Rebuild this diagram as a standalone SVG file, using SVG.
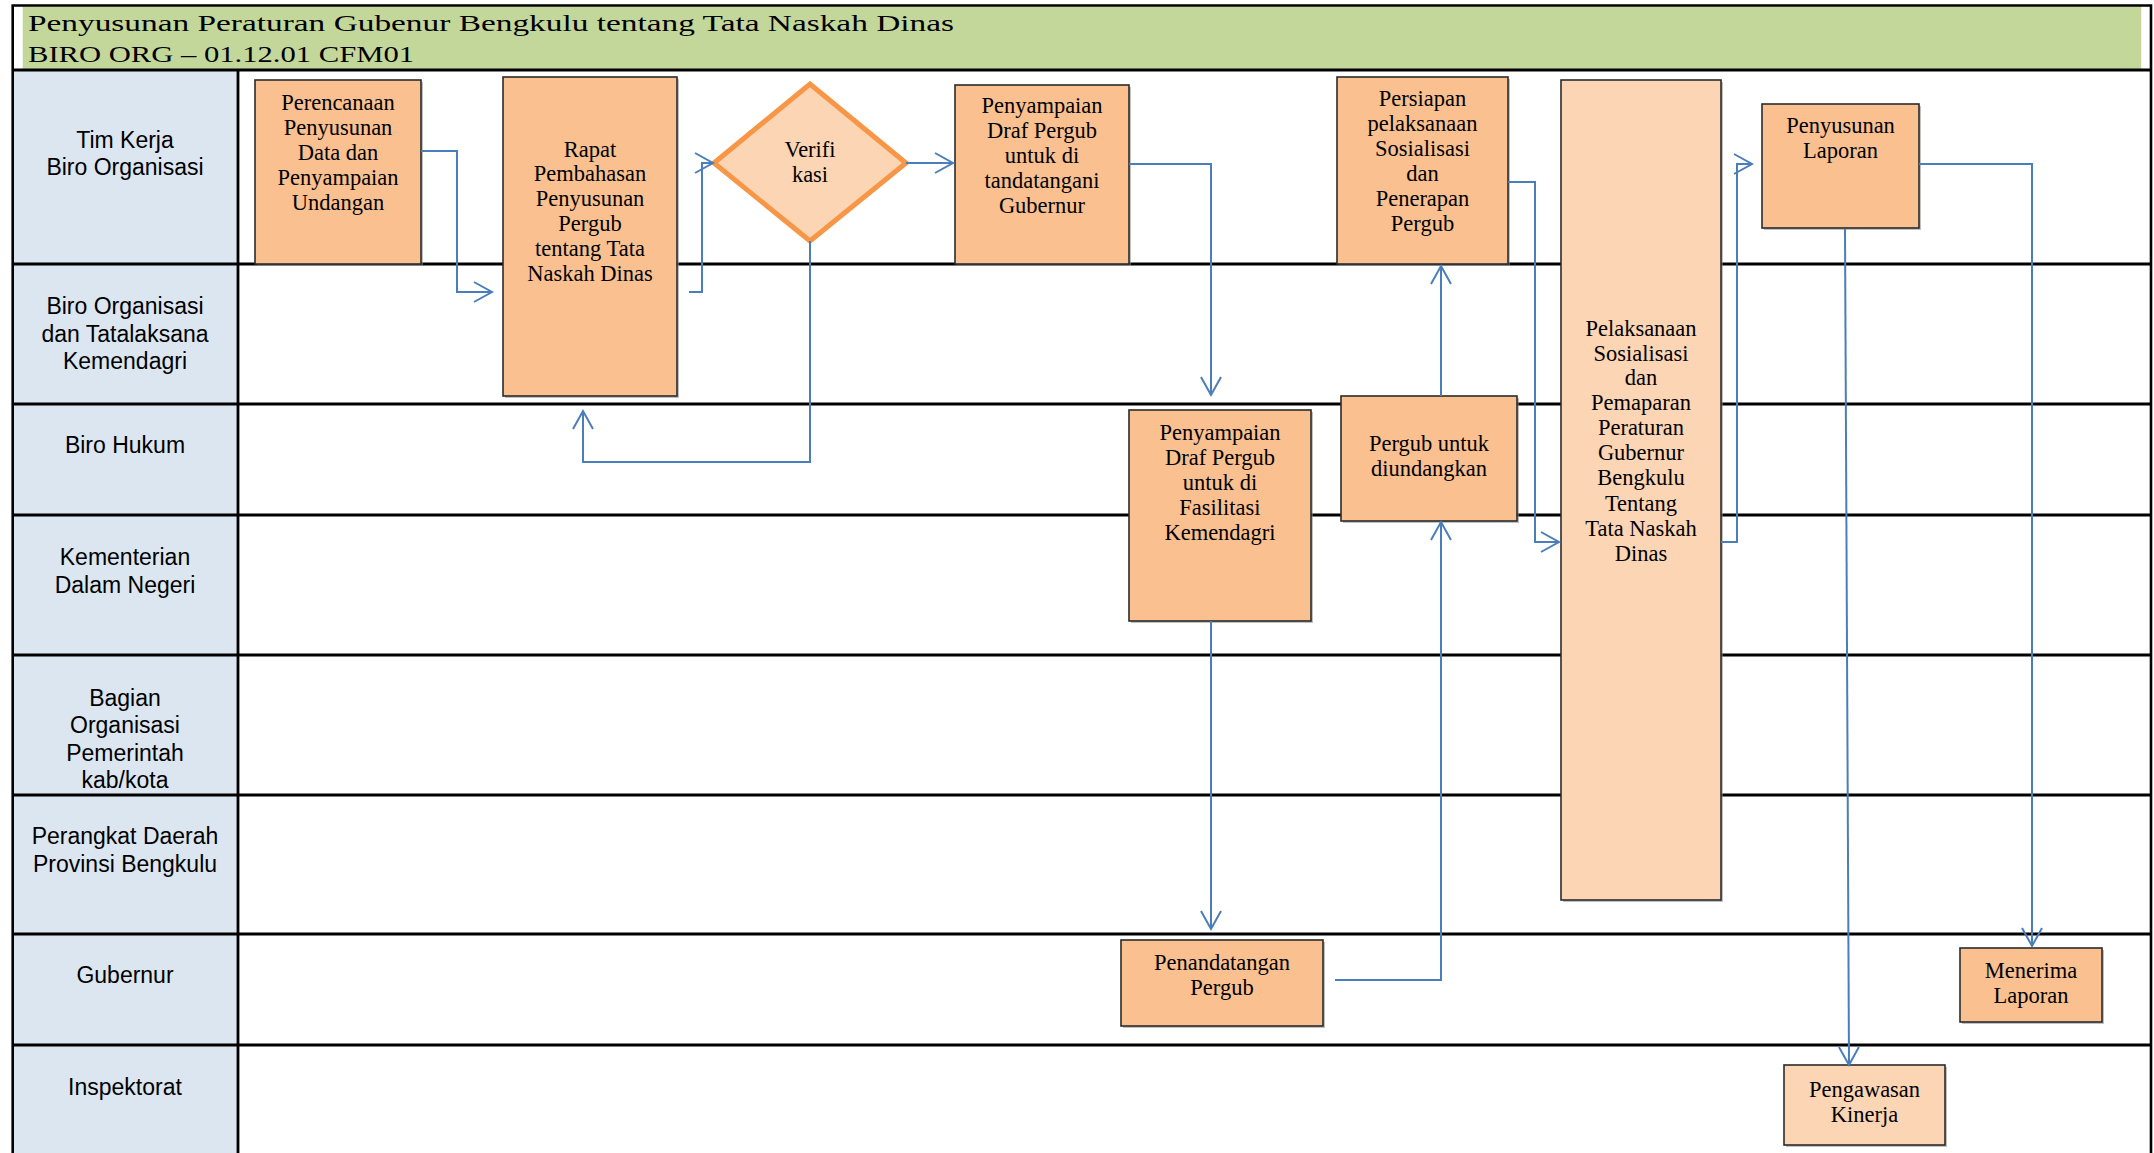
<svg xmlns="http://www.w3.org/2000/svg" width="2154" height="1153" viewBox="0 0 2154 1153">
<defs>
<style>
.frame{stroke:#000;stroke-width:2.6;fill:none}
.lane{stroke:#000;stroke-width:2.8;fill:none}
.lbl{font-family:"Liberation Sans",Arial,sans-serif;font-size:23px;text-anchor:middle;fill:#000}
.t{font-family:"Liberation Serif","Times New Roman",serif;font-size:22.5px;text-anchor:middle;fill:#000}
.title{font-family:"Liberation Serif","Times New Roman",serif;font-size:24px;fill:#000}
.box{fill:#FAC090;stroke:#2b2b2b;stroke-width:1.6}
.boxl{fill:#FCD5B4;stroke:#2b2b2b;stroke-width:1.6}
.sh{fill:#8c8c8c;opacity:0.55}
.con{fill:none;stroke:#4A7EBB;stroke-width:2;marker-end:url(#arr)}
.dia{fill:#FCD5B4;stroke:#F79646;stroke-width:5;stroke-linejoin:miter}
</style>
<marker id="arr" markerUnits="userSpaceOnUse" markerWidth="24" markerHeight="24" refX="19" refY="11" orient="auto" overflow="visible">
<path d="M1,1 L19,11 L1,21" fill="none" stroke="#4A7EBB" stroke-width="2"/>
</marker>
</defs>
<rect x="0" y="0" width="2154" height="1153" fill="#fff"/>
<g id="header">
<rect x="22.7" y="6.5" width="2118.5" height="63" fill="#C4D79B"/>
<text class="title" x="28" y="31" textLength="926" lengthAdjust="spacingAndGlyphs">Penyusunan Peraturan Gubenur Bengkulu tentang Tata Naskah Dinas</text>
<text class="title" x="28" y="62" textLength="386" lengthAdjust="spacingAndGlyphs">BIRO ORG – 01.12.01 CFM01</text>
</g>
<g id="lanes">
<rect x="12.7" y="70" width="225.3" height="1083" fill="#DCE6F1"/>
<path class="frame" d="M12.7,1153 V5.5 H2151 V1153"/>
<path class="lane" d="M12.7,70 H2151"/>
<path class="lane" d="M238,70 V1153"/>
<path class="lane" d="M12.7,264 H2151 M12.7,404 H2151 M12.7,515 H2151 M12.7,655 H2151 M12.7,795 H2151 M12.7,934 H2151 M12.7,1045 H2151"/>
<text class="lbl" x="125" y="148">Tim Kerja</text>
<text class="lbl" x="125" y="175">Biro Organisasi</text>
<text class="lbl" x="125" y="314">Biro Organisasi</text>
<text class="lbl" x="125" y="342">dan Tatalaksana</text>
<text class="lbl" x="125" y="369">Kemendagri</text>
<text class="lbl" x="125" y="453">Biro Hukum</text>
<text class="lbl" x="125" y="565">Kementerian</text>
<text class="lbl" x="125" y="593">Dalam Negeri</text>
<text class="lbl" x="125" y="706">Bagian</text>
<text class="lbl" x="125" y="733">Organisasi</text>
<text class="lbl" x="125" y="761">Pemerintah</text>
<text class="lbl" x="125" y="788">kab/kota</text>
<text class="lbl" x="125" y="844">Perangkat Daerah</text>
<text class="lbl" x="125" y="872">Provinsi Bengkulu</text>
<text class="lbl" x="125" y="983">Gubernur</text>
<text class="lbl" x="125" y="1095">Inspektorat</text>
</g>
<g id="n1">
<rect class="sh" x="257" y="82" width="166" height="184"/>
<rect class="box" x="255" y="80" width="166" height="184"/>
<text class="t" x="338" y="110">Perencanaan</text>
<text class="t" x="338" y="135">Penyusunan</text>
<text class="t" x="338" y="160">Data dan</text>
<text class="t" x="338" y="185">Penyampaian</text>
<text class="t" x="338" y="210">Undangan</text>
</g>
<g id="n2">
<rect class="sh" x="505" y="79" width="174" height="319"/>
<rect class="box" x="503" y="77" width="174" height="319"/>
<text class="t" x="590" y="157">Rapat</text>
<text class="t" x="590" y="181">Pembahasan</text>
<text class="t" x="590" y="206">Penyusunan</text>
<text class="t" x="590" y="231">Pergub</text>
<text class="t" x="590" y="256">tentang Tata</text>
<text class="t" x="590" y="281">Naskah Dinas</text>
</g>
<g id="n3">
<polygon class="dia" points="714,163 810,84 906,163 810,241"/>
<text class="t" x="810" y="157">Verifi</text>
<text class="t" x="810" y="182">kasi</text>
</g>
<g id="n4">
<rect class="sh" x="957" y="87" width="174" height="179"/>
<rect class="box" x="955" y="85" width="174" height="179"/>
<text class="t" x="1042" y="113">Penyampaian</text>
<text class="t" x="1042" y="138">Draf Pergub</text>
<text class="t" x="1042" y="163">untuk di</text>
<text class="t" x="1042" y="188">tandatangani</text>
<text class="t" x="1042" y="213">Gubernur</text>
</g>
<g id="n5">
<rect class="sh" x="1339" y="79" width="171" height="187"/>
<rect class="box" x="1337" y="77" width="171" height="187"/>
<text class="t" x="1422.5" y="106">Persiapan</text>
<text class="t" x="1422.5" y="131">pelaksanaan</text>
<text class="t" x="1422.5" y="156">Sosialisasi</text>
<text class="t" x="1422.5" y="181">dan</text>
<text class="t" x="1422.5" y="206">Penerapan</text>
<text class="t" x="1422.5" y="231">Pergub</text>
</g>
<g id="n6">
<rect class="sh" x="1563" y="82" width="160" height="820"/>
<rect class="boxl" x="1561" y="80" width="160" height="820"/>
<text class="t" x="1641" y="336">Pelaksanaan</text>
<text class="t" x="1641" y="361">Sosialisasi</text>
<text class="t" x="1641" y="385">dan</text>
<text class="t" x="1641" y="410">Pemaparan</text>
<text class="t" x="1641" y="435">Peraturan</text>
<text class="t" x="1641" y="460">Gubernur</text>
<text class="t" x="1641" y="485">Bengkulu</text>
<text class="t" x="1641" y="511">Tentang</text>
<text class="t" x="1641" y="536">Tata Naskah</text>
<text class="t" x="1641" y="561">Dinas</text>
</g>
<g id="n7">
<rect class="sh" x="1764" y="106" width="157" height="124"/>
<rect class="box" x="1762" y="104" width="157" height="124"/>
<text class="t" x="1840.5" y="133">Penyusunan</text>
<text class="t" x="1840.5" y="158">Laporan</text>
</g>
<g id="n8">
<rect class="sh" x="1131" y="412" width="182" height="211"/>
<rect class="box" x="1129" y="410" width="182" height="211"/>
<text class="t" x="1220" y="440">Penyampaian</text>
<text class="t" x="1220" y="465">Draf Pergub</text>
<text class="t" x="1220" y="490">untuk di</text>
<text class="t" x="1220" y="515">Fasilitasi</text>
<text class="t" x="1220" y="540">Kemendagri</text>
</g>
<g id="n9">
<rect class="sh" x="1343" y="398" width="176" height="125"/>
<rect class="box" x="1341" y="396" width="176" height="125"/>
<text class="t" x="1429" y="451">Pergub untuk</text>
<text class="t" x="1429" y="476">diundangkan</text>
</g>
<g id="n10">
<rect class="sh" x="1123" y="942" width="202" height="86"/>
<rect class="box" x="1121" y="940" width="202" height="86"/>
<text class="t" x="1222" y="970">Penandatangan</text>
<text class="t" x="1222" y="995">Pergub</text>
</g>
<g id="n11">
<rect class="sh" x="1962" y="950" width="142" height="74"/>
<rect class="box" x="1960" y="948" width="142" height="74"/>
<text class="t" x="2031" y="978">Menerima</text>
<text class="t" x="2031" y="1003">Laporan</text>
</g>
<g id="n12">
<rect class="sh" x="1786" y="1067" width="161" height="80"/>
<rect class="boxl" x="1784" y="1065" width="161" height="80"/>
<text class="t" x="1864.5" y="1097">Pengawasan</text>
<text class="t" x="1864.5" y="1122">Kinerja</text>
</g>
<g id="connectors">
<path class="con" d="M421,151 H457 V292 H492"/>
<path class="con" d="M689,292 H702 V163 H713"/>
<path class="con" d="M906,163 H953"/>
<path class="con" d="M810,241 V462 H583 V411"/>
<path class="con" d="M1129,164 H1211 V395"/>
<path class="con" d="M1211,621 V929"/>
<path class="con" d="M1335,980 H1441 V522"/>
<path class="con" d="M1441,396 V266"/>
<path class="con" d="M1508,182 H1535 V542 H1559"/>
<path class="con" d="M1721,542 H1737 V164 H1752"/>
<path class="con" d="M1919,164 H2032 V946"/>
<path class="con" d="M1845,229 L1849,1065"/>
</g>
</svg>
